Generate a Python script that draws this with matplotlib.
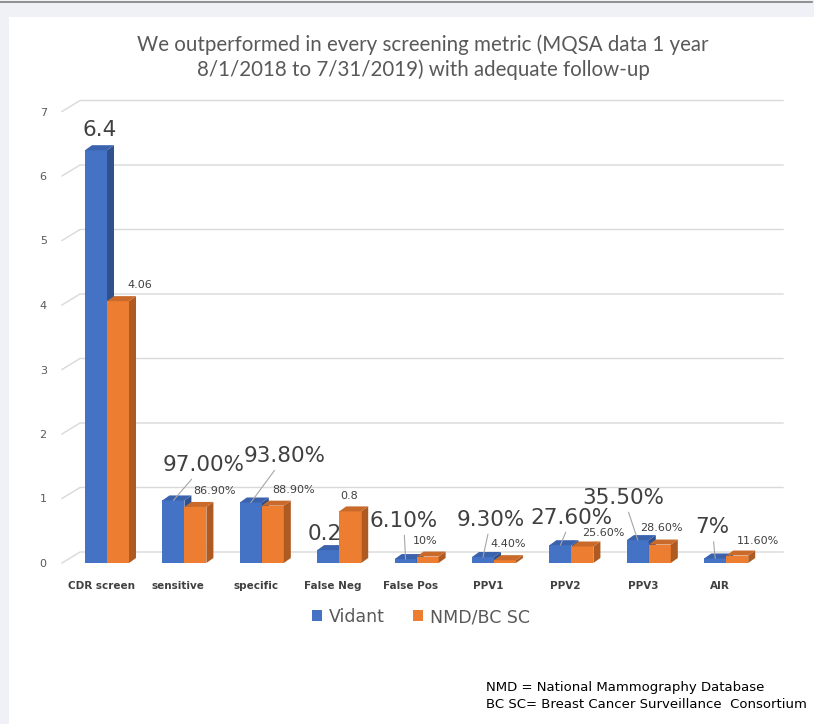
import matplotlib.pyplot as plt
from matplotlib.patches import Polygon, Rectangle
from matplotlib.lines import Line2D
import numpy as np

# data
categories = ['CDR screen', 'sensitive', 'specific', 'False Neg', 'False Pos',
              'PPV1', 'PPV2', 'PPV3', 'AIR']
vidant = [6.4, 0.97, 0.938, 0.2, 0.061, 0.093, 0.276, 0.355, 0.07]
nmd = [4.06, 0.869, 0.889, 0.8, 0.10, 0.044, 0.256, 0.286, 0.116]
vidant_labels = ['6.4', '97.00%', '93.80%', '0.2', '6.10%', '9.30%', '27.60%', '35.50%', '7%']
nmd_labels = ['4.06', '86.90%', '88.90%', '0.8', '10%', '4.40%', '25.60%', '28.60%', '11.60%']
series_names = ['Vidant', 'NMD/BC SC']

# label placement (pixel offsets from bar top) and leader line flags
vid_off = [(4, 20), (30, 35), (34, 46), (-3, 16), (-2, 38), (8, 37), (11, 27), (-14, 42), (-3, 31)]
vid_leader = [False, True, True, False, True, True, True, True, True]
nmd_off = [(22, 16), (19, 16), (21, 16), (-1, 15), (-2, 16), (3, 16), (21, 13), (2, 17), (21, 15)]

BLUE = ('#4472c4', '#2f528f', '#3a62ad')     # front, side, top
ORANGE = ('#ed7d31', '#ae5a21', '#c9692a')

fig = plt.figure(figsize=(8.14, 7.24), dpi=100)
fig.patch.set_facecolor('#f0f1f7')
fig.patches.append(Rectangle((9 / 814, 0), 1, 1 - 17 / 724, transform=fig.transFigure,
                             facecolor='white', edgecolor='none', zorder=-1))
fig.lines.append(Line2D([0, 812 / 814], [1 - 2 / 724] * 2, transform=fig.transFigure,
                        color='#808080', lw=1.2))

ax = fig.add_axes([62 / 814, 161 / 724, 703 / 814, 451.5 / 724])
ax.set_facecolor('none')
for s in ax.spines.values():
    s.set_visible(False)

n = len(categories)
x = np.arange(n)
xlim = (-0.504, -0.504 + 703 / 77.4)
ax.set_xlim(*xlim)
ax.set_ylim(0, 7)

# 3d-ish depth in data units
px_x = 77.4
px_y = 64.5
bdx, bdy = 18 / px_x, 11 / px_y   # back wall
ddx, ddy = 7 / px_x, 5 / px_y     # bar depth

# gridlines on the back wall with slanted floor connectors
for v in range(0, 8):
    ax.plot([xlim[0], xlim[0] + bdx, xlim[1] + bdx], [v, v + bdy, v + bdy],
            color='#d9d9d9', lw=1, clip_on=False, zorder=0)

w = 22 / px_x
shift = 6 / px_x


def bar3d(xs, vals, cols):
    bars = ax.bar(xs, vals, width=w, align='edge', color=cols[0], zorder=2, lw=0)
    for b in bars:
        x0, x1, h = b.get_x(), b.get_x() + b.get_width(), b.get_height()
        side = Polygon([(x1, 0), (x1 + ddx, ddy), (x1 + ddx, h + ddy), (x1, h)],
                       closed=True, facecolor=cols[1], lw=0, zorder=2)
        top = Polygon([(x0, h), (x1, h), (x1 + ddx, h + ddy), (x0 + ddx, h + ddy)],
                      closed=True, facecolor=cols[2], lw=0, zorder=2)
        ax.add_patch(side)
        ax.add_patch(top)
    return bars


vb = bar3d(x + shift - w, vidant, BLUE)
ob = bar3d(x + shift, nmd, ORANGE)

# data labels
for i in range(n):
    xv = x[i] + shift - w / 2
    ap = dict(arrowstyle='-', color='#a6a6a6', lw=0.8, shrinkA=1, shrinkB=0) if vid_leader[i] else None
    ax.annotate(vidant_labels[i], xy=(xv, vidant[i]), xytext=vid_off[i],
                textcoords='offset pixels', ha='center', va='center',
                fontsize=15.5, color='#404040', arrowprops=ap, zorder=5)
    xo = x[i] + shift + w / 2
    ax.annotate(nmd_labels[i], xy=(xo, nmd[i]), xytext=nmd_off[i],
                textcoords='offset pixels', ha='center', va='center',
                fontsize=8, color='#404040', zorder=5)

ax.set_yticks(range(8))
ax.set_yticklabels([str(v) for v in range(8)], fontsize=8, color='#595959')
ax.set_xticks(x)
ax.set_xticklabels(categories, fontsize=7.5, color='#404040', fontweight='bold')
ax.tick_params(axis='y', length=0, pad=11)
ax.tick_params(axis='x', length=0, pad=13)

# title
fig.text(423 / 814, 1 - 57 / 724,
         'We outperformed in every screening metric (MQSA data 1 year\n8/1/2018 to 7/31/2019) with adequate follow-up',
         ha='center', va='center', fontsize=14.8, color='#595959', family='Lato', linespacing=1.3)

# legend
handles = [Rectangle((0, 0), 1, 1, facecolor=BLUE[0]), Rectangle((0, 0), 1, 1, facecolor=ORANGE[0])]
fig.legend(handles, series_names, loc='center', bbox_to_anchor=(421 / 814, 1 - 617 / 724),
           ncol=2, frameon=False, fontsize=12.5, labelcolor='#595959',
           handlelength=0.6, handleheight=0.6, handletextpad=0.4, columnspacing=1.6)

# footnote
fig.text(486 / 814, 1 - 688 / 724, 'NMD = National Mammography Database',
         ha='left', va='center', fontsize=9.5, color='black')
fig.text(486 / 814, 1 - 705 / 724, 'BC SC= Breast Cancer Surveillance  Consortium',
         ha='left', va='center', fontsize=9.5, color='black')

fig.savefig('out.png', dpi=100, facecolor=fig.get_facecolor())
